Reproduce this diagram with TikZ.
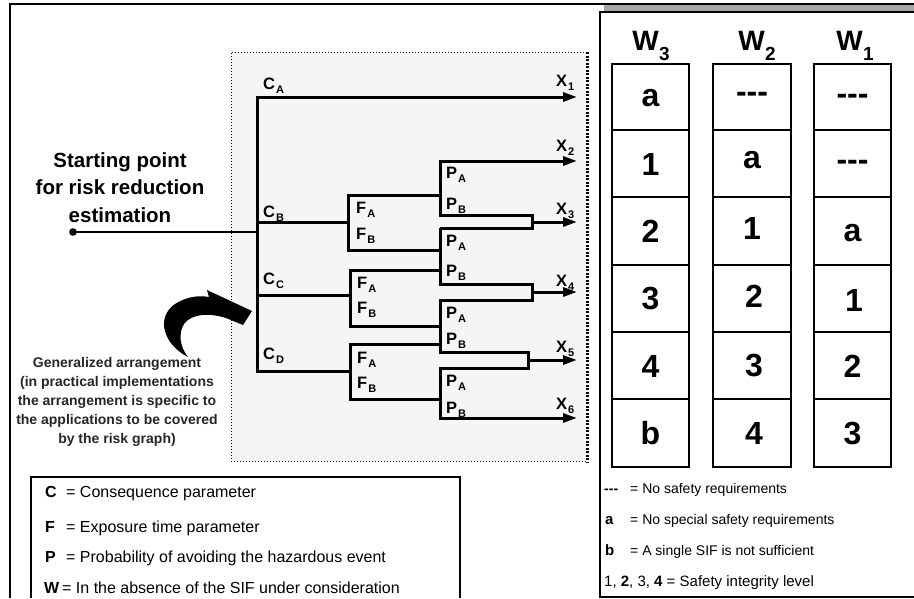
\documentclass[tikz,border=0pt]{standalone}
\usepackage{fontspec}
\setmainfont{Liberation Sans}
\usetikzlibrary{arrows.meta}
\newcommand\sbs[1]{\kern1pt\raisebox{-4pt}{\fontsize{11}{11}\selectfont #1}}
\newcommand\wsub[1]{\kern0.5pt\raisebox{-10pt}{\fontsize{19}{19}\selectfont #1}}
\begin{document}
\begin{tikzpicture}[x=1pt,y=-1pt,
 tree/.style={line width=3pt,line join=miter},
 arr/.style={tree,-{Triangle[length=14pt,width=9pt]}},
 lbl/.style={anchor=base west,inner sep=0pt,font=\bfseries\fontsize{16.5}{16.5}\selectfont},
 cellbox/.style={draw,line width=2pt},
 divider/.style={line width=2.5pt},
 cell/.style={inner sep=0pt,font=\bfseries\fontsize{32}{32}\selectfont},
 whead/.style={anchor=base,inner sep=0pt,font=\bfseries\fontsize{28}{28}\selectfont},
 legL/.style={anchor=base west,inner sep=0pt,font=\fontsize{16}{16}\selectfont},
 legR/.style={anchor=base west,inner sep=0pt,font=\fontsize{14}{14}\selectfont},
 bigtxt/.style={align=center,inner sep=0pt,font=\bfseries\fontsize{20.5}{27.5}\selectfont},
 smalltxt/.style={align=center,inner sep=0pt,text=black!85,font=\bfseries\fontsize{14}{19}\selectfont},
]
\useasboundingbox (0,0) rectangle (914,598);
\fill[white] (0,0) rectangle (914,598);

% frames
\draw[line width=1.5pt] (10,598) -- (10,4) -- (914,4);
\fill[black!35] (604,5) rectangle (914,12);
\draw[line width=1.5pt] (914,12) -- (600,12) -- (600,597) -- (914,597);
\draw[line width=1.2pt] (31,598) -- (31,477) -- (460,477) -- (460,598);

% dotted area
\fill[black!4] (231,52) rectangle (587,461);
\draw[line width=1pt,dash pattern=on 1pt off 2pt] (587,52) -- (231,52) -- (231,461) -- (587,461);
\draw[line width=3pt,dash pattern=on 2pt off 1.5pt] (587,52) -- (587,462);

% coordinates
\coordinate (start) at (73,232);
\coordinate (tS) at (257,232);
\coordinate (tA) at (257,97);
\coordinate (tB) at (257,222);
\coordinate (tC) at (257,295);
\coordinate (tD) at (257,371);
\coordinate (x1) at (577,97);
\coordinate (x2) at (577,161);
\coordinate (x3) at (577,222);
\coordinate (x4) at (577,292);
\coordinate (x5) at (577,360);
\coordinate (x6) at (577,418);
% F junctions
\coordinate (f1t) at (348,195); \coordinate (f1m) at (348,222); \coordinate (f1b) at (348,250);
\coordinate (f2t) at (350,270); \coordinate (f2m) at (350,295); \coordinate (f2b) at (350,326);
\coordinate (f3t) at (350,344); \coordinate (f3m) at (350,371); \coordinate (f3b) at (350,399);
% P junctions
\coordinate (p1t) at (440,161); \coordinate (p1f) at (440,195); \coordinate (p1b) at (440,215);
\coordinate (p2t) at (440,228); \coordinate (p2f) at (440,250); \coordinate (p2g) at (440,270); \coordinate (p2b) at (440,284);
\coordinate (p3t) at (440,300); \coordinate (p3f) at (440,326); \coordinate (p3g) at (440,344); \coordinate (p3b) at (440,352);
\coordinate (p4t) at (440,368); \coordinate (p4f) at (440,399); \coordinate (p4b) at (440,418);
% merge loops
\coordinate (m3t) at (532,215); \coordinate (m3) at (532,222); \coordinate (m3b) at (532,228);
\coordinate (m4t) at (532,284); \coordinate (m4) at (532,292); \coordinate (m4b) at (532,300);
\coordinate (m5t) at (528,352); \coordinate (m5) at (528,360); \coordinate (m5b) at (528,368);

% tree
\fill (start) circle (3.8pt);
\draw[line width=2.5pt] (start) -- (tS);
\draw[arr] (f3m) -- (tD) -- (tA) -- (x1);
\draw[tree] (tB) -- (f1m);
\draw[tree] (tC) -- (f2m);
\draw[tree] (p1f) -- (f1t) -- (f1b) -- (p2f);
\draw[tree] (p2g) -- (f2t) -- (f2b) -- (p3f);
\draw[tree] (p3g) -- (f3t) -- (f3b) -- (p4f);
\draw[arr] (p2t) -- (m3b) -- (m3t) -- (p1b) -- (p1t) -- (x2);
\draw[arr] (p2t) -- (p2b) -- (m4t) -- (m4b) -- (p3t) -- (p3b) -- (m5t) -- (m5b) -- (p4t) -- (p4b) -- (x6);
\draw[arr] (m3) -- (x3);
\draw[arr] (m4) -- (x4);
\draw[arr] (m5) -- (x5);

% tree labels
\node[lbl] (lCA) at (263,89) {C\sbs{A}};
\node[lbl] (lCB) at (263,217) {C\sbs{B}};
\node[lbl] (lCC) at (263,284) {C\sbs{C}};
\node[lbl] (lCD) at (263,359) {C\sbs{D}};
\node[lbl] (lF1A) at (356,213) {F\sbs{A}};
\node[lbl] (lF1B) at (356,239) {F\sbs{B}};
\node[lbl] (lF2A) at (357,288) {F\sbs{A}};
\node[lbl] (lF2B) at (357,313) {F\sbs{B}};
\node[lbl] (lF3A) at (357,363) {F\sbs{A}};
\node[lbl] (lF3B) at (357,388) {F\sbs{B}};
\node[lbl] (lP1A) at (446,178) {P\sbs{A}};
\node[lbl] (lP1B) at (446,209) {P\sbs{B}};
\node[lbl] (lP2A) at (446,246) {P\sbs{A}};
\node[lbl] (lP2B) at (446,276) {P\sbs{B}};
\node[lbl] (lP3A) at (446,318) {P\sbs{A}};
\node[lbl] (lP3B) at (446,344) {P\sbs{B}};
\node[lbl] (lP4A) at (446,386) {P\sbs{A}};
\node[lbl] (lP4B) at (446,413) {P\sbs{B}};
\node[lbl] (lX1) at (556,86) {X\sbs{1}};
\node[lbl] (lX2) at (556,151) {X\sbs{2}};
\node[lbl] (lX3) at (556,214) {X\sbs{3}};
\node[lbl] (lX4) at (556,286) {X\sbs{4}};
\node[lbl] (lX5) at (556,352) {X\sbs{5}};
\node[lbl] (lX6) at (556,409) {X\sbs{6}};

% left texts (base anchor = last line)
\node[bigtxt,anchor=base] (startTxt) at (120,222) {Starting point\\for risk reduction\\estimation};
\node[smalltxt,anchor=base] (genTxt) at (117,443) {Generalized arrangement\\(in practical implementations\\the arrangement is specific to\\the applications to be covered\\by the risk graph)};

% curved arrow
\fill (188,357) .. controls (164,345) and (155,318) .. (175,304)
  .. controls (186,297) and (198,295) .. (209,297) -- (207,290) -- (252,311) -- (243,325) -- (226,318)
  .. controls (210,313) and (192,313) .. (184,324)
  .. controls (178,334) and (180,347) .. (188,357) -- cycle;

% W columns
\draw[cellbox] (612,64) rectangle (689,467);
\draw[cellbox] (713,64) rectangle (791,467);
\draw[cellbox] (814,64) rectangle (891,467);
\foreach \yy in {130,197,265,332,399} {
  \draw[divider] (612,\yy) -- (689,\yy);
  \draw[divider] (713,\yy) -- (791,\yy);
  \draw[divider] (814,\yy) -- (891,\yy);
}
\node[whead] (hW3) at (651,50) {W\wsub{3}};
\node[whead] (hW2) at (757,50) {W\wsub{2}};
\node[whead] (hW1) at (855,50) {W\wsub{1}};

\node[cell] (c31) at (650.5,98) {a};
\node[cell] (c32) at (650.5,164) {1};
\node[cell] (c33) at (650.5,231) {2};
\node[cell] (c34) at (650.5,299) {3};
\node[cell] (c35) at (650.5,366) {4};
\node[cell] (c36) at (650.5,433) {b};
\node[cell] (c21) at (752,97) {-{}-{}-};
\node[cell] (c22) at (752,160) {a};
\node[cell] (c23) at (752,228) {1};
\node[cell] (c24) at (754,296) {2};
\node[cell] (c25) at (754,366) {3};
\node[cell] (c26) at (754,433) {4};
\node[cell] (c11) at (852.5,99) {-{}-{}-};
\node[cell] (c12) at (852.5,165) {-{}-{}-};
\node[cell] (c13) at (852.5,233) {a};
\node[cell] (c14) at (854,300) {1};
\node[cell] (c15) at (852.5,366) {2};
\node[cell] (c16) at (852.5,434) {3};

% legend left
\node[legL,font=\bfseries\fontsize{16}{16}\selectfont] (kC) at (45,497) {C};
\node[legL] (tC2) at (66,497) {= Consequence parameter};
\node[legL,font=\bfseries\fontsize{16}{16}\selectfont] (kF) at (45,532) {F};
\node[legL] (tF2) at (66,532) {= Exposure time parameter};
\node[legL,font=\bfseries\fontsize{16}{16}\selectfont] (kP) at (45,562) {P};
\node[legL] (tP2) at (66,562) {= Probability of avoiding the hazardous event};
\node[legL,font=\bfseries\fontsize{16}{16}\selectfont] (kW) at (44,593) {W};
\node[legL] (tW2) at (62,593) {= In the absence of the SIF under consideration};

% legend right
\node[legR,font=\bfseries\fontsize{14}{14}\selectfont] (kd) at (604,493) {-{}-{}-};
\node[legR] (td) at (630,493) {= No safety requirements};
\node[legR,font=\bfseries\fontsize{15}{15}\selectfont] (ka) at (605,524) {a};
\node[legR] (ta) at (630,524) {= No special safety requirements};
\node[legR,font=\bfseries\fontsize{15}{15}\selectfont] (kb) at (605,555) {b};
\node[legR] (tb) at (630,555) {= A single SIF is not sufficient};
\node[legR,font=\fontsize{15}{15}\selectfont] (tn) at (604,586) {1, \textbf{2}, 3, \textbf{4} = Safety integrity level};
\end{tikzpicture}
\end{document}
